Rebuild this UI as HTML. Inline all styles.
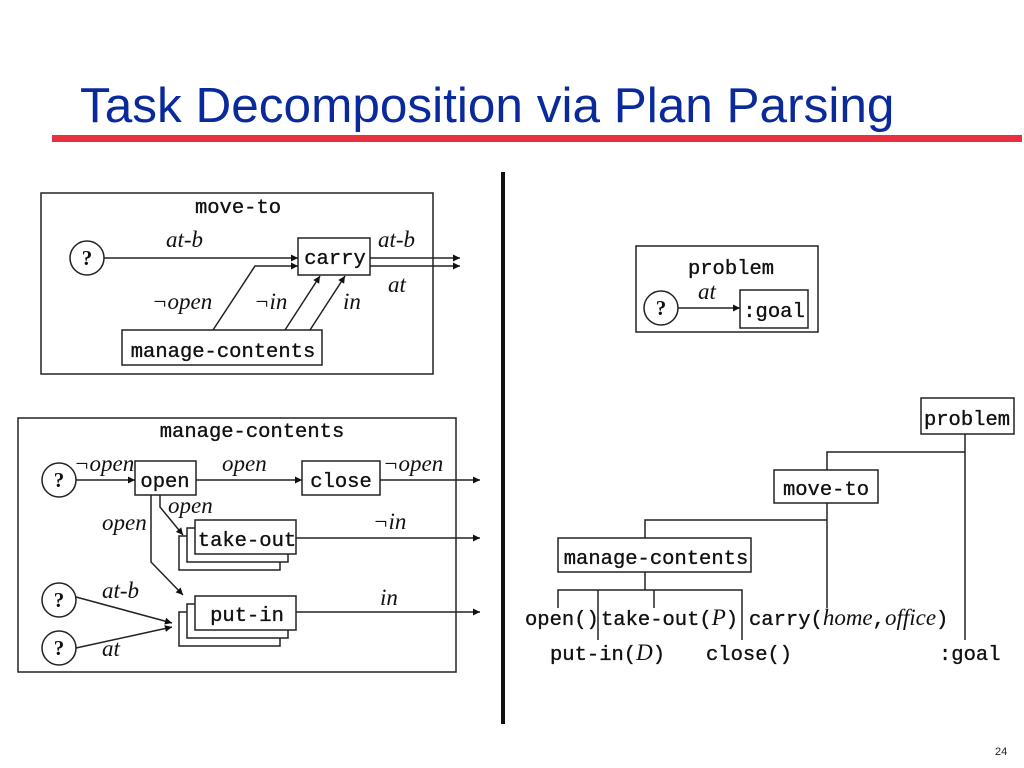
<!DOCTYPE html>
<html><head><meta charset="utf-8"><style>
html,body{margin:0;padding:0;background:#fff;}
svg{display:block}
.m{font-family:"Liberation Mono",monospace;font-size:20.5px;fill:#111;stroke:#111;stroke-width:0.35;}
.i{font-family:"Liberation Serif",serif;font-style:italic;font-size:23px;fill:#111;stroke:none;}
.q{font-family:"Liberation Serif",serif;font-weight:bold;font-size:21px;fill:#111;}
</style></head><body>
<svg width="1024" height="768" viewBox="0 0 1024 768" xmlns="http://www.w3.org/2000/svg">
<defs><marker id="a" viewBox="0 0 10 10" refX="10" refY="5" markerWidth="9" markerHeight="7" orient="auto" markerUnits="userSpaceOnUse"><path d="M0,0L10,5L0,10z" fill="#111"/></marker></defs>
<text x="80" y="122" font-family="Liberation Sans,sans-serif" font-size="49.5" fill="#0a2a9c">Task Decomposition via Plan Parsing</text>
<rect x="52" y="135" width="970" height="7" fill="#e8303f"/>
<rect x="501" y="172" width="4" height="552" fill="#111"/>
<g stroke="#222" fill="none" stroke-width="1.5">
<rect x="41" y="193" width="392" height="181"/>
<circle cx="87" cy="258" r="17"/>
<line x1="104" y1="258" x2="298" y2="258" marker-end="url(#a)"/>
<polyline points="213,330 255,266 298,266" marker-end="url(#a)"/>
<rect x="298" y="238" width="72" height="37"/>
<line x1="370" y1="258" x2="460" y2="258" marker-end="url(#a)"/>
<line x1="370" y1="266" x2="460" y2="266" marker-end="url(#a)"/>
<rect x="122" y="330" width="200" height="35"/>
<line x1="285" y1="330" x2="320" y2="276" marker-end="url(#a)"/>
<line x1="310" y1="330" x2="345" y2="276" marker-end="url(#a)"/>
<rect x="18" y="418" width="438" height="254"/>
<circle cx="59" cy="480" r="17"/>
<line x1="76" y1="480" x2="135" y2="480" marker-end="url(#a)"/>
<rect x="135" y="461" width="61" height="34"/>
<line x1="196" y1="480" x2="302" y2="480" marker-end="url(#a)"/>
<rect x="302" y="461" width="78" height="34"/>
<line x1="380" y1="480" x2="480" y2="480" marker-end="url(#a)"/>
<rect x="179" y="536" width="101" height="34" fill="#fff"/>
<rect x="187" y="528" width="101" height="34" fill="#fff"/>
<rect x="195" y="520" width="101" height="34" fill="#fff"/>
<line x1="296" y1="538" x2="480" y2="538" marker-end="url(#a)"/>
<polyline points="160,495 160,507 183,535" marker-end="url(#a)"/>
<rect x="179" y="612" width="101" height="34" fill="#fff"/>
<rect x="187" y="604" width="101" height="34" fill="#fff"/>
<rect x="195" y="596" width="101" height="34" fill="#fff"/>
<polyline points="151,495 151,562 183,595" marker-end="url(#a)"/>
<line x1="296" y1="612" x2="480" y2="612" marker-end="url(#a)"/>
<circle cx="59" cy="600" r="17"/>
<circle cx="59" cy="648" r="17"/>
<line x1="76" y1="597" x2="172" y2="623" marker-end="url(#a)"/>
<line x1="76" y1="648" x2="172" y2="627" marker-end="url(#a)"/>
<rect x="636" y="246" width="182" height="86"/>
<circle cx="661" cy="308" r="17"/>
<line x1="678" y1="308" x2="740" y2="308" marker-end="url(#a)"/>
<rect x="740" y="290" width="68" height="38"/>
<rect x="921" y="398" width="93" height="36"/>
<polyline points="965,434 965,640"/>
<polyline points="965,452 827,452 827,470"/>
<rect x="774" y="470" width="104" height="33"/>
<polyline points="827,503 827,608"/>
<polyline points="827,520 645,520 645,538"/>
<rect x="558" y="538" width="193" height="34"/>
<polyline points="645,572 645,590"/>
<polyline points="558,608 558,590 742,590 742,640"/>
<line x1="598" y1="590" x2="598" y2="640"/>
<line x1="654" y1="590" x2="654" y2="608"/>
</g>
<text class="m" x="238" y="213" text-anchor="middle">move-to</text>
<text class="q" x="87" y="265" text-anchor="middle">?</text>
<text class="i" x="166" y="247">at-b</text>
<text class="m" x="335" y="264" text-anchor="middle">carry</text>
<text class="i" x="378" y="247">at-b</text>
<text class="i" x="388" y="292">at</text>
<text class="i" x="152" y="309">¬open</text>
<text class="i" x="254" y="309">¬in</text>
<text class="i" x="343" y="309">in</text>
<text class="m" x="223" y="357" text-anchor="middle">manage-contents</text>
<text class="m" x="252" y="437" text-anchor="middle">manage-contents</text>
<text class="q" x="59" y="487" text-anchor="middle">?</text>
<text class="i" x="74" y="471">¬open</text>
<text class="m" x="165" y="487" text-anchor="middle">open</text>
<text class="i" x="222" y="471">open</text>
<text class="m" x="341" y="487" text-anchor="middle">close</text>
<text class="i" x="383" y="471">¬open</text>
<text class="i" x="168" y="513">open</text>
<text class="i" x="102" y="530">open</text>
<text class="m" x="247" y="546" text-anchor="middle">take-out</text>
<text class="i" x="373" y="529">¬in</text>
<text class="i" x="102" y="598">at-b</text>
<text class="i" x="102" y="656">at</text>
<text class="q" x="59" y="607" text-anchor="middle">?</text>
<text class="q" x="59" y="655" text-anchor="middle">?</text>
<text class="m" x="247" y="621" text-anchor="middle">put-in</text>
<text class="i" x="380" y="605">in</text>
<text class="m" x="731" y="274" text-anchor="middle">problem</text>
<text class="q" x="661" y="315" text-anchor="middle">?</text>
<text class="i" x="698" y="299">at</text>
<text class="m" x="774" y="317" text-anchor="middle">:goal</text>
<text class="m" x="967" y="425" text-anchor="middle">problem</text>
<text class="m" x="826" y="495" text-anchor="middle">move-to</text>
<text class="m" x="656" y="564" text-anchor="middle">manage-contents</text>
<text class="m" x="525" y="625">open()</text>
<text class="m" x="601" y="625">take-out(<tspan class="i">P</tspan>)</text>
<text class="m" x="749" y="625">carry(<tspan class="i">home</tspan>,<tspan class="i">office</tspan>)</text>
<text class="m" x="550" y="660">put-in(<tspan class="i">D</tspan>)</text>
<text class="m" x="706" y="660">close()</text>
<text class="m" x="939" y="660">:goal</text>
<text x="995" y="755" font-family="Liberation Sans,sans-serif" font-size="11" fill="#222">24</text>
</svg>
</body></html>
